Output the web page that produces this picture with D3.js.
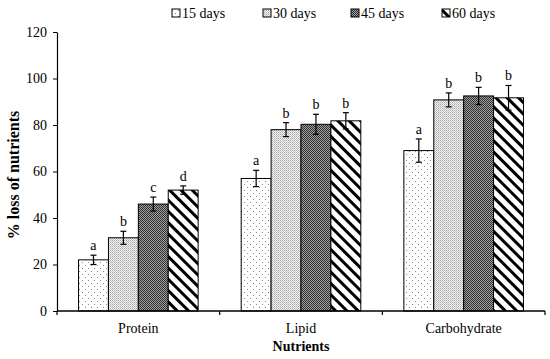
<!DOCTYPE html>
<html><head><meta charset="utf-8">
<script src="https://cdn.jsdelivr.net/npm/d3@7"></script>
<style>body{margin:0;background:#fff}svg{display:block}text{font-family:"Liberation Serif","Times New Roman",serif}</style>
</head><body>
<script>
const categories = ["Protein", "Lipid", "Carbohydrate"];
const seriesNames = ["15 days", "30 days", "45 days", "60 days"];
const d15 = [22, 57, 69];
const d30 = [31.5, 78, 90.8];
const d45 = [46, 80.3, 92.5];
const d60 = [52, 81.8, 91.7];
const e15 = [2, 3.5, 5];
const e30 = [2.8, 3, 3];
const e45 = [3, 4.3, 3.7];
const e60 = [1.8, 3.5, 5.3];
const l15 = ["a", "a", "a"];
const l30 = ["b", "b", "b"];
const l45 = ["c", "b", "b"];
const l60 = ["d", "b", "b"];
const yTicks = [0, 20, 40, 60, 80, 100, 120];

const values = [d15, d30, d45, d60], errs = [e15, e30, e45, e60], lets = [l15, l30, l45, l60];
const W = 550, H = 359;
const svg = d3.select("body").append("svg").attr("width", W).attr("height", H);
const defs = svg.append("defs");
// patterns
const p1 = defs.append("pattern").attr("id","p0").attr("patternUnits","userSpaceOnUse").attr("width",6).attr("height",6);
p1.append("rect").attr("width",6).attr("height",6).attr("fill","#fff");
p1.append("rect").attr("x",1).attr("y",1).attr("width",1).attr("height",1).attr("fill","#888");
p1.append("rect").attr("x",4).attr("y",4).attr("width",1).attr("height",1).attr("fill","#888");
const p2 = defs.append("pattern").attr("id","p1").attr("patternUnits","userSpaceOnUse").attr("width",2).attr("height",2);
p2.append("rect").attr("width",2).attr("height",2).attr("fill","#f2f2f2");
p2.append("rect").attr("width",1).attr("height",1).attr("fill","#a8a8a8");
p2.append("rect").attr("x",1).attr("y",1).attr("width",1).attr("height",1).attr("fill","#c4c4c4");
const p3 = defs.append("pattern").attr("id","p2").attr("patternUnits","userSpaceOnUse").attr("width",2).attr("height",2);
p3.append("rect").attr("width",2).attr("height",2).attr("fill","#a0a0a0");
p3.append("rect").attr("width",1).attr("height",1).attr("fill","#303030");
p3.append("rect").attr("x",1).attr("y",1).attr("width",1).attr("height",1).attr("fill","#303030");
const p4 = defs.append("pattern").attr("id","p3").attr("patternUnits","userSpaceOnUse").attr("width",8).attr("height",8).attr("patternTransform","rotate(-45)");
p4.append("rect").attr("width",8).attr("height",8).attr("fill","#fff");
p4.append("rect").attr("width",3).attr("height",8).attr("fill","#000");

const m = {l:57, r:5, t:32, b:48};
const x = d3.scaleBand().domain(categories).range([m.l, 545]).paddingInner(0).paddingOuter(0);
const y = d3.scaleLinear().domain([0,120]).range([311, 32]);
const x1 = d3.scaleBand().domain(d3.range(4)).range([0, x.bandwidth()]).paddingOuter(0.72).paddingInner(0);

const g = svg.append("g");
categories.forEach((c, ci) => {
  for (let s = 0; s < 4; s++) {
    const bx = x(c) + x1(s), bw = x1.bandwidth();
    const v = values[s][ci], e = errs[s][ci];
    g.append("rect").attr("x", bx).attr("y", y(v)).attr("width", bw).attr("height", y(0) - y(v))
      .attr("fill", `url(#p${s})`).attr("stroke", "#000").attr("stroke-width", 1);
    const cx = bx + bw/2;
    g.append("line").attr("x1",cx).attr("x2",cx).attr("y1",y(v+e)).attr("y2",y(v-e)).attr("stroke","#000").attr("stroke-width",1.2);
    g.append("line").attr("x1",cx-3).attr("x2",cx+3).attr("y1",y(v+e)).attr("y2",y(v+e)).attr("stroke","#000").attr("stroke-width",1.2);
    g.append("line").attr("x1",cx-3).attr("x2",cx+3).attr("y1",y(v-e)).attr("y2",y(v-e)).attr("stroke","#000").attr("stroke-width",1.2);
    g.append("text").attr("x", cx).attr("y", y(v+e) - 5).attr("text-anchor","middle").attr("font-size",14).text(lets[s][ci]);
  }
});

// y axis
const ya = svg.append("g").attr("transform",`translate(${m.l},0)`).call(d3.axisLeft(y).tickValues(yTicks).tickSize(4).tickSizeOuter(0));
ya.select(".domain").attr("stroke","#000").attr("stroke-width",1.2);
ya.selectAll("text").attr("font-size",14).attr("fill","#000").attr("font-family","Liberation Serif").attr("dx","-3");
ya.selectAll(".tick line").attr("stroke","#000");
// x axis
const xa = svg.append("g").attr("transform",`translate(0,311)`);
xa.append("line").attr("x1",m.l).attr("x2",545).attr("y1",0).attr("y2",0).attr("stroke","#000").attr("stroke-width",1.5);
[m.l, ...categories.map(c => x(c) + x.bandwidth())].forEach(t => {
  xa.append("line").attr("x1",t).attr("x2",t).attr("y1",0).attr("y2",4).attr("stroke","#000").attr("stroke-width",1.2);
});
categories.forEach(c => {
  xa.append("text").attr("x", x(c) + x.bandwidth()/2).attr("y", 22).attr("text-anchor","middle").attr("font-size",14).text(c);
});
svg.append("text").attr("x", 301).attr("y", 351).attr("text-anchor","middle").attr("font-size",14).attr("font-weight","bold").text("Nutrients");
svg.append("text").attr("transform","translate(19,175) rotate(-90)").attr("text-anchor","middle").attr("font-size",16).attr("font-weight","bold").text("% loss of nutrients");

// legend
const lx = [172, 263, 351, 442];
seriesNames.forEach((n, i) => {
  svg.append("rect").attr("x", lx[i]).attr("y", 9).attr("width", 8).attr("height", 8).attr("fill", `url(#p${i})`).attr("stroke","#000").attr("stroke-width",1);
  svg.append("text").attr("x", lx[i] + 10).attr("y", 18).attr("font-size",14).text(n);
});
</script>
</body></html>
